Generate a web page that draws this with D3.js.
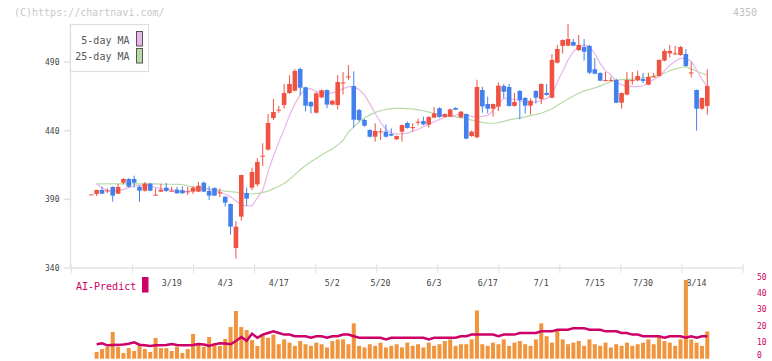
<!DOCTYPE html>
<html><head><meta charset="utf-8">
<script src="https://cdn.jsdelivr.net/npm/d3@7"></script>
<style>body{margin:0;background:#fff}svg{display:block}text{font-family:"DejaVu Sans Mono",monospace}</style>
</head><body><div id="chart"></div>
<script>
const openP=[393.6,393.9,396.8,396,399,394.1,402.1,404.8,404.8,399.2,396.3,401.4,393,395.6,398.5,396,397,396.6,395.4,395.6,395.6,402.1,396.1,398.3,394.7,391.9,386.6,354.6,377.4,394.6,398.5,400.9,421.3,426.2,449.2,454.9,458.7,467.4,469.1,484.9,471.6,460.9,453.1,464.3,469.6,459,458.7,474.7,479.1,472.5,455,447.8,440.5,435.6,439.1,439.3,437.6,433.7,439.3,445.6,442.2,446.1,447,444.4,449.5,456.3,450,450.2,456.5,449.7,452.1,436.1,435.2,469.6,459.4,456,457.5,472.5,471.8,458,468.9,463.8,458.2,468.9,463,467.4,464,489.5,501.7,501.9,504.6,498.7,500.9,501.7,484.7,482,476.4,476.4,476.9,460.4,466.2,476.4,476.6,477.6,473.5,479.1,479.8,491,496.3,495.9,495.1,495.8,482,469.6,456,458];
const highP=[393.6,397,399.2,398,399.5,401.2,405.5,405.5,407.2,400,402.6,402.1,398,401.2,401.9,399.2,399,399.5,399,399.7,402.6,402.9,399.7,398.6,398,392.2,387,374.2,408,398.5,413.1,419.9,430.8,452.1,463.1,458,474,480.3,484.9,485.9,472,461.5,468.2,470,470,462.5,480.5,482.7,487.8,483.2,456,448.5,441,445.3,441.7,444.6,441.7,436.5,444.5,446.6,445.3,448.7,450.2,450.5,457.2,457,452.5,456,457,454.5,452.5,440,477.1,472,464.8,459.8,475,474,474,467.4,469.5,464.5,463.5,469.5,474.5,474,495.8,502.4,506.5,517.7,506.7,509.7,506.7,502.4,492.9,482.5,482.7,479,477.9,467.8,482.7,482.7,483.7,482,482.2,482,492,499.5,502.4,501.7,501.7,499.5,490,470,464.2,484.7];
const lowP=[393.6,392.4,394,394.5,388.3,394,401,398.5,398.7,388.3,395.6,396,393,395.5,395.5,395.8,394,394.2,393.2,393.9,395.3,395.3,389.5,392.4,391.5,384.7,364.3,346.8,374.5,385.4,396.8,399.5,414.3,425.5,447.8,453,456,466.8,468.5,465.7,454,452.6,452.5,463.5,456.3,458.5,455.5,466.5,477,442.2,446.5,443,435,432,433.2,435,436,433.3,432,441.5,439.3,443.9,444,442.2,449,449.5,449.5,449.8,455,449,433.8,435.5,434.4,453.1,452.6,450.2,454.3,463.5,457.5,457.5,448.3,452.4,451.7,459.9,459.4,465.5,463.5,489,496.1,501.5,501.5,498,491,481.2,481,476,476,476,460,456,465.8,473.5,476,474.7,473,478.8,479.3,490.5,493.2,495.5,494.6,486.6,478.8,440,455,451.6];
const closeP=[393.6,396.8,394.1,396.5,392.7,399,404.8,399.2,402.1,396.3,401.4,396.3,393.4,397,396.1,396.2,394.4,394.4,395.8,398.5,399.9,395.6,392.7,392.7,395,387.6,370.1,370.1,407.7,390.5,409.9,417.2,421.8,445.6,453.6,455.3,467.4,474,483.5,471.3,458.2,457.7,467.2,469.4,459,461.8,475.4,475.1,479.5,448,447.8,443.6,435.6,439.8,439.5,435.6,436.4,436.1,444.1,442,442.6,446.5,444.6,450,452.6,450,452.1,455.5,455.3,453.8,434.2,439.3,471.8,457.7,456,459.4,472.8,468.4,458,460.9,462.3,458.2,461.8,464,474,466,491.5,499.5,506,506.7,501.9,502.4,497.5,482.2,481.5,476.4,476.8,476.8,460.4,467.4,476.9,476.8,479.8,476.2,479.1,479.5,491.5,498,498,496.3,500.9,487.1,482.4,456,463.8,472.5];
const ma5=[null,401.2,398.5,396.5,395.7,396.3,397.3,398.5,399.7,400.3,400.4,399.5,398.6,397.8,397.3,396.9,396.5,396,395.7,396.7,397.5,398,397.2,396.3,395.2,393.7,391.8,388.8,386,385.3,385.2,391,396.5,410,421.5,431.5,441,451,459.5,466,470.5,470.5,468.6,467.8,467.2,467.5,468.6,470.5,472,472,470,466,459.5,452.5,446,441,438.5,437.6,437.8,438.2,439.6,441,442.8,444.5,446.5,448.2,449.8,450.8,451.3,452.3,451.8,450.2,450.2,450.4,450.9,454.5,459.5,463.6,463.2,462.7,461.7,461,460.6,460.8,462,463.5,466,475.5,483.3,491.5,497.5,501,502.4,501.2,496,489,483.5,480.5,475.7,473.5,472,472,472,472.5,475,477.3,479.5,483.5,487.6,490.5,492.7,492.4,490.5,484.2,477.5,472];
const ma25=[null,401.2,401.2,401.2,401.2,401.2,401.2,401.2,401.2,401.2,401.2,401.2,401.2,401.1,401,401,400.9,400.8,399.8,399,398.5,398.1,397.6,397,396.5,396,395.6,395.3,394.5,394,393.9,394.3,394.9,396,397.8,399.5,401.5,404.5,408,411.5,414.6,417.3,419.8,422.3,424.6,426.9,429.5,433,439,442.8,446.3,449.2,451.5,453.3,454.5,455.4,456,456.3,456.3,456.1,455.8,455.2,454.5,453.5,452.5,451.6,451,450.5,450.1,449.6,448.8,447.7,446.8,446,445.4,445.4,445.8,446.8,447.8,448.6,449.3,450,451,451.9,452.7,454.3,455.8,458.3,460.8,463,465.2,467.3,469,470,471.2,472.6,474.2,475.6,476.8,477.1,477.3,477.4,477.9,478.5,479.1,479.7,480.3,481.8,483.6,485,486,486.6,485,483.3,481.8,480.5];
const volume=[0,4.2,6.0,7.5,16.6,7.5,3.5,6.6,4.8,8.5,6.0,4.2,12.9,6.6,6.6,4.8,7.5,3.5,6.0,15.4,9.8,7.3,13.5,9.8,7.9,12.3,19.7,29.7,19.7,17.8,11.6,7.9,15,13,15,9,12,10,8,11,9,8,10,9,7,11,12,12,9,22,8,7,9,8,10,7,8,9,7,10,8,9,7,10,8,9,11,12,8,9,9,12,30,9,8,10,9,12,8,10,11,9,8,12,22,14,10,18,12,9,10,11,8,12,9,8,10,7,9,8,10,8,9,10,12,9,14,11,10,8,12,49,12,10,8,17];
const aiPredict=[null,9.0,9.6,8.3,8.5,8.6,8.9,9.3,10.2,8.7,8.3,7.9,8.3,8.3,8.5,9.1,8.5,8.3,8.3,8.5,9.2,8.8,8.0,8.9,9.6,9.5,9.0,11.0,13.5,11.2,15.5,13,15,16,17,16,15,15,14,14,14,13,14,14,13,14,14,15,15,14,13,13,13,13,13,12,13,13,13,13,13,13,13,12,13,13,13,13,13,14,14,15,15,15,15,15,14,15,15,15,16,16,16,16,17,17,17,18,18,18,19,19,19,18,18,18,17,17,17,16,16,15,15,14,14,14,14,13,14,14,14,13,14,13,14,14];
const priceTicks=[340,390,440,490];
const volTicks=[0,10,20,30,40,50];
const dateLabels=["3/19","4/3","4/17","5/2","5/20","6/3","6/17","7/1","7/15","7/30","8/14"];
const dateLabelIdx=[15,25,35,45,54,64,74,84,94,103,113];
const legendNames=["5-day MA","25-day MA"];

const W=772,H=361;
const RED="#f05242",BLUE="#4280ee",MA5C="#e9b5ea",MA25C="#b7dba6",AIC="#cc0066",VOLC="#f0953d";
const svg=d3.select("#chart").append("svg").attr("width",W).attr("height",H);
const n=closeP.length;
const x=d3.scaleLinear().domain([0,n-1]).range([91.3,707.3]);
const y=d3.scaleLinear().domain([340,490]).range([268,62]);
const yv=d3.scaleLinear().domain([0,50]).range([358.7,278.3]);
const div=d3.scaleLinear().domain([0,11]).range([71.5,743]);

svg.append("text").attr("x",14).attr("y",15.5).attr("font-size",10).attr("fill","#c8c8c8").text("(C)https://chartnavi.com/");
svg.append("text").attr("x",757).attr("y",15.5).attr("font-size",10).attr("fill","#c0c0c0").attr("text-anchor","end").text("4350");

const axisC="#e2e2e2";
svg.append("line").attr("x1",70.5).attr("x2",70.5).attr("y1",24).attr("y2",268).attr("stroke",axisC).attr("stroke-width",1.5);
svg.append("line").attr("x1",70).attr("x2",743.5).attr("y1",268).attr("y2",268).attr("stroke",axisC).attr("stroke-width",1.5);
svg.selectAll(".divt").data(d3.range(12)).join("line")
  .attr("x1",d=>div(d)).attr("x2",d=>div(d)).attr("y1",264.5).attr("y2",273)
  .attr("stroke",axisC).attr("stroke-width",1.2);
const yt=svg.append("g");
yt.selectAll("line").data(priceTicks).join("line")
  .attr("x1",64).attr("x2",70).attr("y1",d=>y(d)).attr("y2",d=>y(d)).attr("stroke",axisC).attr("stroke-width",1.5);
yt.selectAll("text").data(priceTicks).join("text")
  .attr("x",59.5).attr("y",d=>y(d)+3).attr("text-anchor","end").attr("font-size",8).attr("fill","#444").text(d=>d);

svg.selectAll(".xl").data(dateLabels).join("text")
  .attr("x",(d,i)=>x(dateLabelIdx[i])).attr("y",285.5).attr("text-anchor","middle")
  .attr("font-size",8.3).attr("fill","#444").text(d=>d);

const idx=d3.range(n);
const mkLine=arr=>d3.line().defined(i=>arr[i]!=null).x(i=>x(i)).y(i=>y(arr[i]));
svg.append("path").attr("d",mkLine(ma25)(idx)).attr("fill","none").attr("stroke",MA25C).attr("stroke-width",1.2);
svg.append("path").attr("d",mkLine(ma5)(idx)).attr("fill","none").attr("stroke",MA5C).attr("stroke-width",1.2);

const cg=svg.append("g");
idx.forEach(i=>{
  const o=openP[i],c=closeP[i],h=highP[i],l=lowP[i];
  const col=c>=o?RED:BLUE;
  cg.append("line").attr("x1",x(i)).attr("x2",x(i)).attr("y1",y(h)).attr("y2",y(l)).attr("stroke",col).attr("stroke-width",1);
  const top=y(Math.max(o,c)),bot=y(Math.min(o,c));
  cg.append("rect").attr("x",x(i)-2.3).attr("width",4.6).attr("y",top).attr("height",Math.max(1,bot-top)).attr("fill",col);
});

svg.append("rect").attr("x",70.5).attr("y",24.5).attr("width",78).attr("height",47).attr("fill","#fff").attr("stroke","#dedede").attr("stroke-width",1.2);
const lg=svg.append("g");
[MA5C,MA25C].forEach((c,i)=>{
  lg.append("text").attr("x",129.5).attr("y",44.3+i*16).attr("text-anchor","end").attr("font-size",10).attr("fill","#555").text(legendNames[i]);
  lg.append("rect").attr("x",136.5).attr("y",31.5+i*17).attr("width",6).attr("height",14.5).attr("fill",c).attr("stroke","#555").attr("stroke-width",1);
});

svg.selectAll(".vb").data(idx.filter(i=>volume[i]>0)).join("rect")
  .attr("x",i=>x(i)-2).attr("width",4).attr("y",i=>yv(volume[i])).attr("height",i=>yv(0)-yv(volume[i])).attr("fill",VOLC);
svg.append("path").attr("d",d3.line().defined(i=>aiPredict[i]!=null).x(i=>x(i)).y(i=>yv(aiPredict[i]))(idx))
  .attr("fill","none").attr("stroke",AIC).attr("stroke-width",2.5);
svg.selectAll(".vt").data(volTicks).join("text")
  .attr("x",757).attr("y",d=>Math.min(yv(d)+2,357.5)).attr("font-size",8).attr("fill",AIC).text(d=>d);
svg.append("text").attr("x",76).attr("y",289.5).attr("font-size",10).attr("fill",AIC).text("AI-Predict");
svg.append("rect").attr("x",142).attr("y",277).attr("width",6.5).attr("height",15.5).attr("fill",AIC);
</script></body></html>
